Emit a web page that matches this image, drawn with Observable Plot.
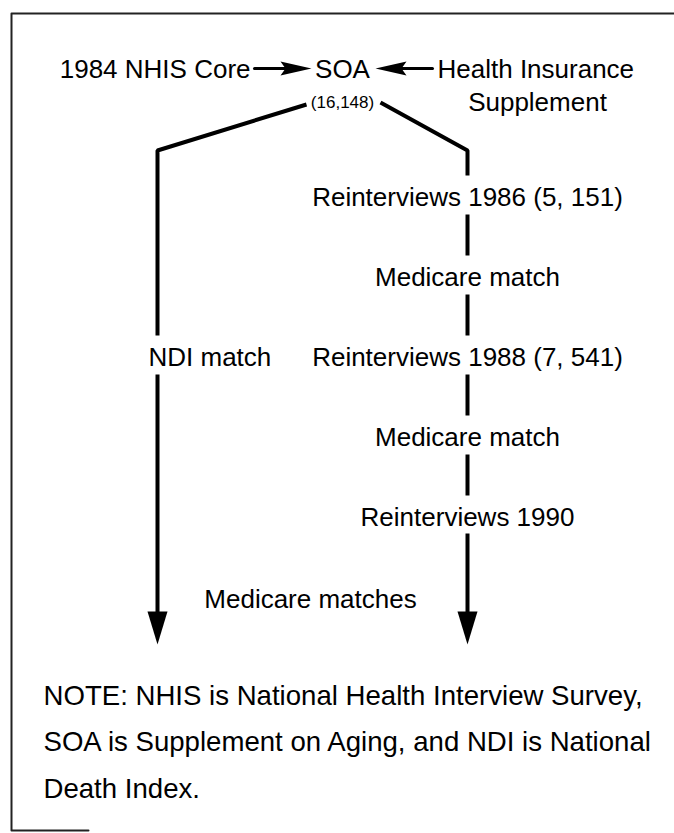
<!DOCTYPE html>
<html><head><meta charset="utf-8">
<script src="https://cdn.jsdelivr.net/npm/d3@7"></script>
<script src="https://cdn.jsdelivr.net/npm/@observablehq/plot@0.6"></script>
<style>
html,body{margin:0;padding:0;background:#fff;}
#chart svg{display:block;}
</style></head><body><div id="chart"></div>
<script>
// ---------- data ----------
const sourceLeft = "1984 NHIS Core";
const centerNode = "SOA";
const centerCount = "(16,148)";
const sourceRight = ["Health Insurance", "Supplement"];
const rightSteps = ["Reinterviews 1986 (5, 151)", "Medicare match", "Reinterviews 1988 (7, 541)", "Medicare match", "Reinterviews 1990"];
const leftSteps = ["NDI match"];
const leftStepRow = [2];
const finalLabel = "Medicare matches";
const noteLines = [
  "NOTE: NHIS is National Health Interview Survey,",
  "SOA is Supplement on Aging, and NDI is National",
  "Death Index."
];

// ---------- layout ----------
const W = 674, H = 833;
const L = {
  colLeft: 157, colCenter: 342, colRight: 467,
  topBaseline: 77, countBaseline: 107, suppBaseline: 110, suppX: 537,
  leftTextEnd: 250, rightTextStart: 437,
  arrowGap: 4,
  branchY: 104, branchDX: 36, corner: 150,
  step0: 205, stepGap: 80, capH: 19, gapAbove: 11, gapBelow: 9,
  leftTextDX: -9,
  finalX: 310, finalBaseline: 607, arrowTip: 644,
  noteX: 43, note0: 704, noteGap: 46.5,
  frameL: 11, frameT: 13, frameB: 830, frameBR: 88
};
const font = "Liberation Sans, Arial, Helvetica, sans-serif";
const FS = 26;

const stepY = i => L.step0 + i * L.stepGap;

// path segments
const segs = [];
let sid = 0;
function seg(pts) { sid++; pts.forEach(([x, y]) => segs.push({x, y, id: sid})); }

// left branch
const leftRowY = stepY(leftStepRow[0]);
seg([[L.colCenter - L.branchDX, L.branchY], [L.colLeft, L.corner], [L.colLeft, leftRowY - L.capH - L.gapAbove]]);
seg([[L.colLeft, leftRowY + L.gapBelow], [L.colLeft, L.arrowTip - 20]]);
// right branch
seg([[L.colCenter + L.branchDX + 2, L.branchY - 2], [L.colRight, L.corner], [L.colRight, stepY(0) - L.capH - L.gapAbove]]);
for (let i = 0; i < rightSteps.length - 1; i++) {
  seg([[L.colRight, stepY(i) + L.gapBelow], [L.colRight, stepY(i + 1) - L.capH - L.gapAbove]]);
}
seg([[L.colRight, stepY(rightSteps.length - 1) + 8], [L.colRight, L.arrowTip - 20]]);

// horizontal arrows on the top row
const rowMid = L.topBaseline - 9;
const hsegs = [];
const xArrowRTip = L.colCenter - 31;
const xArrowLTip = L.colCenter + 33;
hsegs.push({x: L.leftTextEnd + L.arrowGap, y: rowMid, id: 1}, {x: xArrowRTip - 20, y: rowMid, id: 1});
hsegs.push({x: L.rightTextStart - L.arrowGap - 1, y: rowMid, id: 2}, {x: xArrowLTip + 20, y: rowMid, id: 2});

// frame
const frame = [
  {x: L.frameBR, y: L.frameB, id: 1}, {x: L.frameL, y: L.frameB, id: 1},
  {x: L.frameL, y: L.frameT, id: 1}, {x: W, y: L.frameT, id: 1}
];

// arrowhead symbols
const headDown = {draw(c) { c.moveTo(0, 0); c.lineTo(-10, -33); c.lineTo(10, -33); c.closePath(); }};
const headRight = {draw(c) { c.moveTo(0, 0); c.lineTo(-31, -7); c.lineTo(-26, 0); c.lineTo(-31, 7); c.closePath(); }};
const headLeft = {draw(c) { c.moveTo(0, 0); c.lineTo(31, -7); c.lineTo(26, 0); c.lineTo(31, 7); c.closePath(); }};

const txt = {fontFamily: font, fontSize: FS, fill: "#000", lineAnchor: "bottom"};

const chart = Plot.plot({
  width: W, height: H, margin: 0,
  x: {domain: [0, W], range: [0, W], axis: null},
  y: {domain: [0, H], range: [0, H], axis: null},
  marks: [
    Plot.line(frame, {x: "x", y: "y", z: "id", stroke: "#222", strokeWidth: 2}),
    Plot.line(segs, {x: "x", y: "y", z: "id", stroke: "#000", strokeWidth: 4, strokeLinejoin: "miter", strokeLinecap: "butt"}),
    Plot.line(hsegs, {x: "x", y: "y", z: "id", stroke: "#000", strokeWidth: 3}),
    Plot.dot([[L.colLeft, L.arrowTip], [L.colRight, L.arrowTip]], {x: d => d[0], y: d => d[1], symbol: headDown, fill: "#000", stroke: "none"}),
    Plot.dot([[xArrowRTip, rowMid]], {x: d => d[0], y: d => d[1], symbol: headRight, fill: "#000", stroke: "none"}),
    Plot.dot([[xArrowLTip, rowMid]], {x: d => d[0], y: d => d[1], symbol: headLeft, fill: "#000", stroke: "none"}),
    // top row
    Plot.text([sourceLeft], {x: L.leftTextEnd, y: L.topBaseline, text: d => d, textAnchor: "end", ...txt}),
    Plot.text([centerNode], {x: L.colCenter, y: L.topBaseline, text: d => d, textAnchor: "middle", ...txt}),
    Plot.text([sourceRight[0]], {x: L.rightTextStart, y: L.topBaseline, text: d => d, textAnchor: "start", ...txt}),
    Plot.text([sourceRight[1]], {x: L.suppX, y: L.suppBaseline, text: d => d, textAnchor: "middle", ...txt}),
    Plot.text([centerCount], {x: L.colCenter, y: L.countBaseline, text: d => d, textAnchor: "middle", ...txt, fontSize: 17}),
    // right column steps
    Plot.text(rightSteps, {x: L.colRight, y: (d, i) => stepY(i), text: d => d, textAnchor: "middle", ...txt}),
    // left column step
    Plot.text(leftSteps, {x: L.colLeft + L.leftTextDX, y: (d, i) => stepY(leftStepRow[i]), text: d => d, textAnchor: "start", ...txt}),
    Plot.text([finalLabel], {x: L.finalX, y: L.finalBaseline, text: d => d, textAnchor: "middle", ...txt}),
    // note
    Plot.text(noteLines, {x: L.noteX, y: (d, i) => L.note0 + i * L.noteGap, text: d => d, textAnchor: "start", ...txt, fontSize: 27.6})
  ]
});
document.getElementById("chart").appendChild(chart);
</script></body></html>
